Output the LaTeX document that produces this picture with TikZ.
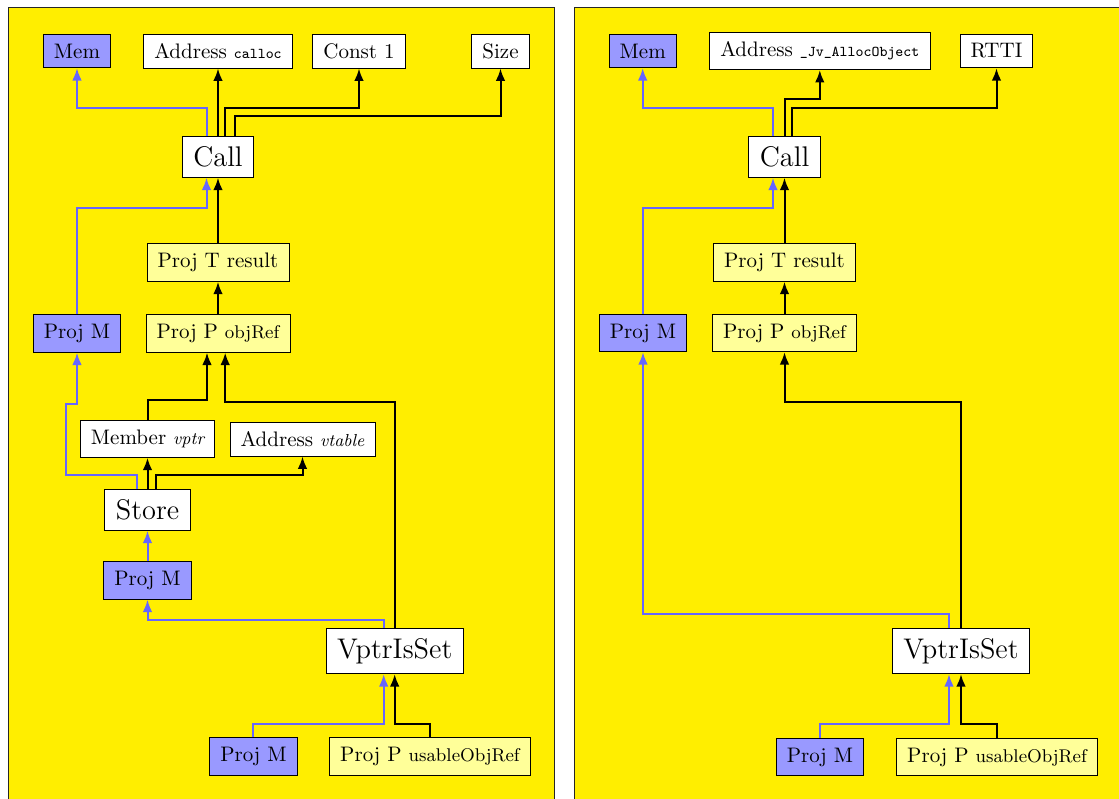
\documentclass[tikz,border=0pt]{standalone}
\usetikzlibrary{arrows.meta}
\definecolor{panelY}{RGB}{255,238,0}
\definecolor{memB}{RGB}{153,153,255}
\definecolor{projY}{RGB}{255,255,153}
\definecolor{lineB}{RGB}{102,102,255}
\newcommand\mysubtt[1]{{\fontsize{7.5}{9}\selectfont\ttfamily #1}}
\newcommand\mysubit[1]{{\fontsize{8.7}{10}\selectfont\itshape #1}}
\newcommand\mysubrm[1]{{\fontsize{9.2}{11}\selectfont #1}}
\begin{document}
\begin{tikzpicture}[x=0.5pt,y=-0.5pt,
  box/.style={draw=black, line width=0.45pt, inner xsep=5.3pt, inner ysep=4.7pt, font=\fontsize{10.5}{12}\selectfont},
  wbox/.style={box, fill=white},
  mbox/.style={box, fill=memB},
  pbox/.style={box, fill=projY},
  bigbox/.style={box, fill=white, font=\fontsize{14.2}{17}\selectfont, inner xsep=5.5pt, inner ysep=5pt},
  blk/.style={draw=black, line width=1pt, -{Latex[length=6.2pt,width=4.8pt]}},
  blu/.style={draw=lineB, line width=1pt, -{Latex[length=6.2pt,width=4.8pt]}},
  panel/.style={fill=panelY, draw=black!85, line width=0.45pt}
]
\path[use as bounding box] (0,0) rectangle (1119,798);
\clip (0,0) rectangle (1119,798);
\path[panel] (8,7) rectangle (554,830);
\path[panel] (574,7) rectangle (1140,830);

% ---------- left panel ----------
\node[mbox] (memL) at (77,51) {Mem};
\node[wbox] (addrL) at (218,51) {Address \mysubtt{calloc}};
\node[wbox] (constL) at (359,51) {Const 1};
\node[wbox] (sizeL) at (500.5,51) {Size};
\node[bigbox] (callL) at (218,157) {Call};
\node[pbox] (projTL) at (218,262.5) {Proj T result};
\node[pbox] (projPL) at (218,333.5) {Proj P \mysubrm{objRef}};
\node[mbox] (projML) at (77,333.5) {Proj M};
\node[wbox] (memberL) at (147.5,439) {Member \mysubit{vptr}};
\node[wbox] (vtableL) at (302.5,439) {Address \mysubit{vtable}};
\node[bigbox] (storeL) at (147.5,510) {Store};
\node[mbox] (projMsL) at (147.5,580.5) {Proj M};
\node[bigbox] (vptrL) at (394.7,651) {VptrIsSet};
\node[mbox] (projMbL) at (253.4,756.5) {Proj M};
\node[pbox] (projPuL) at (430,756.5) {Proj P \mysubrm{usableObjRef}};

\coordinate (cLn1) at ([xshift=-5.75pt]callL.north);
\coordinate (cLn3) at ([xshift=3.5pt]callL.north);
\coordinate (cLn4) at ([xshift=8.5pt]callL.north);
\coordinate (cLs1) at ([xshift=-5.75pt]callL.south);
\coordinate (pPLs1) at ([xshift=-5.5pt]projPL.south);
\coordinate (pPLs2) at ([xshift=3.6pt]projPL.south);
\coordinate (sLn1) at ([xshift=-5.5pt]storeL.north);
\coordinate (sLn3) at ([xshift=4pt]storeL.north);
\coordinate (vLn1) at ([xshift=-5.5pt]vptrL.north);
\coordinate (vLs1) at ([xshift=-5.5pt]vptrL.south);

\draw[blu] (cLn1) |- (memL.south |- 0,108) -- (memL.south);
\draw[blk] (callL.north) -- (addrL.south);
\draw[blk] (cLn3) |- (constL.south |- 0,107.5) -- (constL.south);
\draw[blk] (cLn4) |- (sizeL.south |- 0,115.5) -- (sizeL.south);
\draw[blu] (projML.north) |- (cLs1 |- 0,208) -- (cLs1);
\draw[blk] (projTL.north) -- (callL.south);
\draw[blk] (projPL.north) -- (projTL.south);
\draw[blk] (memberL.north) |- (pPLs1 |- 0,400) -- (pPLs1);
\draw[blk] (vptrL.north) |- (pPLs2 |- 0,401.5) -- (pPLs2);
\draw[blu] (sLn1) |- (65.5,475) |- (projML.south |- 0,404.3) -- (projML.south);
\draw[blk] (storeL.north) -- (memberL.south);
\draw[blk] (sLn3) |- (vtableL.south |- 0,475) -- (vtableL.south);
\draw[blu] (projMsL.north) -- (storeL.south);
\draw[blu] (vLn1) |- (projMsL.south |- 0,620) -- (projMsL.south);
\draw[blu] (projMbL.north) |- (vLs1 |- 0,724) -- (vLs1);
\draw[blk] (projPuL.north) |- (vptrL.south |- 0,724) -- (vptrL.south);

% ---------- right panel ----------
\node[mbox] (memR) at (642.7,51) {Mem};
\node[wbox] (addrR) at (819.8,51) {Address \mysubtt{\_Jv\_AllocObject}};
\node[wbox] (rttiR) at (996.5,51) {RTTI};
\node[bigbox] (callR) at (784.5,157) {Call};
\node[pbox] (projTR) at (784.5,262.5) {Proj T result};
\node[pbox] (projPR) at (784.5,333) {Proj P \mysubrm{objRef}};
\node[mbox] (projMR) at (643,333) {Proj M};
\node[bigbox] (vptrR) at (961,651) {VptrIsSet};
\node[mbox] (projMbR) at (820,757) {Proj M};
\node[pbox] (projPuR) at (997,757) {Proj P \mysubrm{usableObjRef}};

\coordinate (cRn1) at ([xshift=-5.75pt]callR.north);
\coordinate (cRn3) at ([xshift=3.9pt]callR.north);
\coordinate (cRs1) at ([xshift=-5.75pt]callR.south);
\coordinate (vRn1) at ([xshift=-6pt]vptrR.north);
\coordinate (vRs1) at ([xshift=-6pt]vptrR.south);

\draw[blu] (cRn1) |- (memR.south |- 0,107.5) -- (memR.south);
\draw[blk] (callR.north) |- (addrR.south |- 0,99) -- (addrR.south);
\draw[blk] (cRn3) |- (rttiR.south |- 0,107.5) -- (rttiR.south);
\draw[blu] (projMR.north) |- (cRs1 |- 0,208) -- (cRs1);
\draw[blk] (projTR.north) -- (callR.south);
\draw[blk] (projPR.north) -- (projTR.south);
\draw[blk] (vptrR.north) |- (projPR.south |- 0,401.5) -- (projPR.south);
\draw[blu] (vRn1) |- (projMR.south |- 0,614) -- (projMR.south);
\draw[blu] (projMbR.north) |- (vRs1 |- 0,724) -- (vRs1);
\draw[blk] (projPuR.north) |- (vptrR.south |- 0,724) -- (vptrR.south);
\end{tikzpicture}
\end{document}
